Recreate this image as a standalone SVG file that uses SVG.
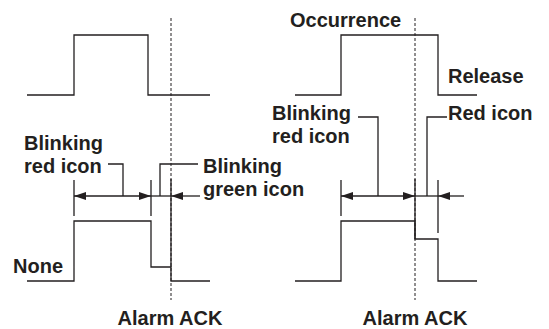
<svg xmlns="http://www.w3.org/2000/svg" width="549" height="329" viewBox="0 0 549 329">
<style>
.w{fill:none;stroke:#231f20;stroke-width:1.3}
.d{fill:none;stroke:#231f20;stroke-width:1;stroke-dasharray:3 2}
.t{font-family:"Liberation Sans",Arial,Helvetica,sans-serif;font-weight:bold;font-size:20px;fill:#231f20}
</style>
<defs>
<marker id="ah" viewBox="0 0 12 8" refX="12" refY="4" markerWidth="12" markerHeight="8" markerUnits="userSpaceOnUse" orient="auto-start-reverse">
<path d="M0,0 L12,4 L0,8 z" fill="#231f20"/>
</marker>
</defs>
<rect width="549" height="329" fill="#fff"/>

<g id="left">
<path class="d" d="M171,18 V300"/>
<path class="w" d="M27,95 H74 V35 H148 V95 H210"/>
<path class="w" d="M27,281 H74 V221 H151 V267 H171 V281 H210"/>
<path class="w" d="M74,180 V216 M151,180 V216 M171,179 V267"/>
<path class="w" d="M74,196 H151" marker-start="url(#ah)" marker-end="url(#ah)"/>
<path class="w" d="M151,196 H171"/>
<path class="w" d="M200,196 H171" marker-end="url(#ah)"/>
<path class="w" d="M108,164 H123 V196"/>
<path class="w" d="M198,164 H160 V196"/>
<text class="t" x="24" y="150">Blinking</text>
<text class="t" x="24" y="173">red icon</text>
<text class="t" x="203" y="173">Blinking</text>
<text class="t" x="203" y="196">green icon</text>
<text class="t" x="13" y="273">None</text>
<text class="t" x="170" y="325" text-anchor="middle">Alarm ACK</text>
</g>

<g id="right">
<path class="d" d="M415,18 V300"/>
<path class="w" d="M295,95 H341 V35 H438 V95 H477"/>
<path class="w" d="M295,281 H341 V221 H415 V239 H438 V281 H477"/>
<path class="w" d="M341,180 V216 M415,179 V239 M438,180 V233"/>
<path class="w" d="M341,196 H415" marker-start="url(#ah)" marker-end="url(#ah)"/>
<path class="w" d="M415,196 H438"/>
<path class="w" d="M464,196 H438" marker-end="url(#ah)"/>
<path class="w" d="M358,117 H378 V196"/>
<path class="w" d="M447,117 H427 V196"/>
<text class="t" x="290" y="27">Occurrence</text>
<text class="t" x="448" y="83">Release</text>
<text class="t" x="272" y="120">Blinking</text>
<text class="t" x="272" y="143">red icon</text>
<text class="t" x="448" y="120">Red icon</text>
<text class="t" x="415" y="325" text-anchor="middle">Alarm ACK</text>
</g>
</svg>
